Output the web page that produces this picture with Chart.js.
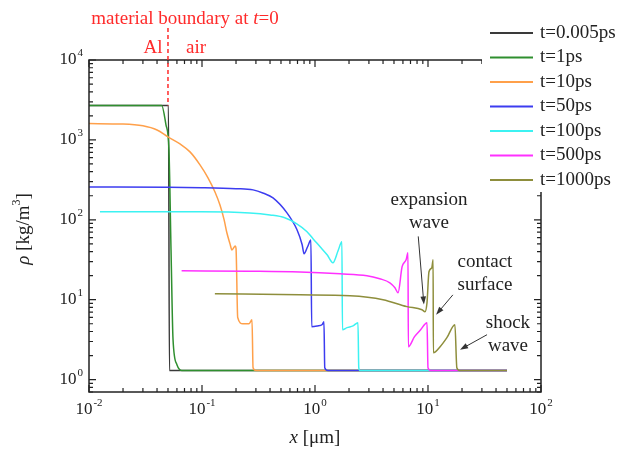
<!DOCTYPE html>
<html>
<head>
<meta charset="utf-8">
<script src="https://cdn.jsdelivr.net/npm/chart.js@4.4.1/dist/chart.umd.min.js"></script>
<style>
  body { margin: 0; background: #fff; }
  #wrap { width: 618px; height: 455px; }
</style>
</head>
<body>
<div id="wrap"><canvas id="rhoChart" width="618" height="455"></canvas></div>
<script>
// Density profiles rho(x) at successive times
const seriesLabels = ['t=0.005ps', 't=1ps', 't=10ps', 't=50ps', 't=100ps', 't=500ps', 't=1000ps'];

const x0005 = [0.01, 0.0505, 0.0515, 50];
const rho0005 = [2700, 2700, 1.3, 1.3];

const x1 = [0.01, 0.044, 0.048, 0.051, 0.0532, 0.0554, 0.060, 0.0665, 50];
const rho1 = [2700, 2700, 1540, 750, 42, 3.2, 1.54, 1.3, 1.3];

const x10 = [0.01, 0.02, 0.03, 0.04, 0.05, 0.0638, 0.0783, 0.096, 0.113, 0.130, 0.144, 0.157, 0.166, 0.177, 0.184, 0.197, 0.2, 0.207, 0.23, 0.26, 0.277, 0.283, 0.30, 50];
const rho10 = [1600, 1580, 1500, 1330, 1090, 891, 708, 487, 335, 224, 154, 100, 68.8, 50, 42, 47, 44, 6.0, 5.0, 5.0, 5.6, 1.41, 1.3, 1.3];

const x50 = [0.01, 0.05, 0.1, 0.2, 0.283, 0.35, 0.425, 0.565, 0.693, 0.77, 0.80, 0.86, 0.92, 0.935, 1.05, 1.16, 1.2, 1.22, 1.3, 50];
const rho50 = [257, 255, 252, 245, 237, 215, 188, 122, 75, 48.7, 37.6, 46, 56, 4.6, 4.7, 4.9, 5.3, 1.41, 1.3, 1.3];

const x100 = [0.0125, 0.096, 0.265, 0.40, 0.54, 0.69, 0.85, 0.96, 1.11, 1.28, 1.44, 1.6, 1.73, 1.75, 1.92, 2.17, 2.40, 2.44, 2.5, 50];
const rho100 = [126, 126, 122, 115, 106, 89, 71, 58, 46, 36.5, 29, 41, 53, 4.2, 4.47, 4.7, 5.16, 1.41, 1.3, 1.3];

const x500 = [0.066, 0.265, 0.736, 1.67, 2.88, 3.74, 4.6, 5.1, 5.43, 5.9, 6.4, 6.65, 6.7, 7.6, 8.6, 9.8, 10.0, 10.6, 50];
const rho500 = [23, 22.7, 22.2, 21.1, 20, 18.3, 16.3, 14.1, 12.2, 25.9, 31.6, 38.6, 2.58, 3.45, 4.2, 5.16, 1.41, 1.3, 1.3];

const x1000 = [0.13, 0.736, 2.04, 4.0, 6.5, 8.85, 9.4, 9.8, 10.2, 10.8, 11.1, 11.15, 12.8, 14.7, 17.3, 18.0, 19.1, 50];
const rho1000 = [11.9, 11.5, 11.2, 10, 8.2, 7.5, 7.08, 9.2, 22.4, 25.1, 31.6, 2.17, 2.58, 3.35, 4.87, 1.41, 1.3, 1.3];

const xSeries = [x0005, x1, x10, x50, x100, x500, x1000];
const rhoSeries = [rho0005, rho1, rho10, rho50, rho100, rho500, rho1000];

// axis decades
const xDecades = [-2, -1, 0, 1, 2];
const yDecades = [0, 1, 2, 3, 4];

// position of the Al/air interface at t=0 (um)
const boundaryX = 0.05;

const lineColors = ['#3a3a3a', '#2f8f2f', '#ffa04a', '#3c3cf0', '#3cf2f2', '#ff30ff', '#8e8e3c'];
const serif = "'Liberation Serif', 'Times New Roman', serif";

const datasets = seriesLabels.map((label, i) => ({
    label: label,
    data: xSeries[i].map((x, j) => ({ x: x, y: rhoSeries[i][j] })),
    borderColor: lineColors[i],
    borderWidth: 1.5,
    pointRadius: 0,
    cubicInterpolationMode: 'monotone',
    fill: false,
    order: seriesLabels.length - i   // later times drawn on top
}));

// draws "10" with a raised exponent; align: 'center' or 'right'
function drawPow(ctx, exp, x, y, align) {
    ctx.font = '17px ' + serif;
    const baseW = ctx.measureText('10').width;
    ctx.font = '11px ' + serif;
    const expW = ctx.measureText(exp).width;
    const total = baseW + expW + 1;
    let left = align === 'right' ? x - total : x - total / 2;
    ctx.textAlign = 'left';
    ctx.textBaseline = 'middle';
    ctx.font = '17px ' + serif;
    ctx.fillText('10', left, y);
    ctx.font = '11px ' + serif;
    ctx.fillText(exp, left + baseW + 1, y - 7);
}

function arrow(ctx, x0, y0, x1, y1) {
    const a = Math.atan2(y1 - y0, x1 - x0);
    ctx.beginPath();
    ctx.moveTo(x0, y0);
    ctx.lineTo(x1 - 5 * Math.cos(a), y1 - 5 * Math.sin(a));
    ctx.stroke();
    ctx.beginPath();
    ctx.moveTo(x1, y1);
    ctx.lineTo(x1 - 8 * Math.cos(a) + 2.8 * Math.sin(a), y1 - 8 * Math.sin(a) - 2.8 * Math.cos(a));
    ctx.lineTo(x1 - 8 * Math.cos(a) - 2.8 * Math.sin(a), y1 - 8 * Math.sin(a) + 2.8 * Math.cos(a));
    ctx.closePath();
    ctx.fill();
}

// text made of pieces, each with its own style and vertical shift
function drawRuns(ctx, runs, x, y, align) {
    let total = 0;
    for (const r of runs) { ctx.font = r.font; r.w = ctx.measureText(r.t).width; total += r.w; }
    let left = align === 'center' ? x - total / 2 : x;
    ctx.textAlign = 'left';
    for (const r of runs) {
        ctx.font = r.font;
        ctx.fillText(r.t, left, y + (r.dy || 0));
        left += r.w;
    }
}

const framePlugin = {
    id: 'frame',
    afterDatasetsDraw(chart) {
        const ctx = chart.ctx;
        const area = chart.chartArea;
        const xs = chart.scales.x;
        const ys = chart.scales.y;
        ctx.save();

        // box
        ctx.strokeStyle = '#222';
        ctx.lineWidth = 1.5;
        ctx.strokeRect(area.left, area.top, area.right - area.left, area.bottom - area.top);

        // inward ticks on all four sides
        ctx.lineWidth = 1.2;
        for (const d of xDecades) {
            for (let k = 1; k <= 9; k++) {
                const v = k * Math.pow(10, d);
                if (v < xs.min || v > xs.max) continue;
                const px = xs.getPixelForValue(v);
                const len = k === 1 ? 7 : 4;
                ctx.beginPath();
                ctx.moveTo(px, area.bottom); ctx.lineTo(px, area.bottom - len);
                ctx.moveTo(px, area.top); ctx.lineTo(px, area.top + len);
                ctx.stroke();
            }
        }
        for (const d of [-1].concat(yDecades)) {
            for (let k = 1; k <= 9; k++) {
                const v = k * Math.pow(10, d);
                if (v < ys.min || v > ys.max) continue;
                const py = ys.getPixelForValue(v);
                const len = k === 1 ? 7 : 4;
                ctx.beginPath();
                ctx.moveTo(area.left, py); ctx.lineTo(area.left + len, py);
                ctx.moveTo(area.right, py); ctx.lineTo(area.right - len, py);
                ctx.stroke();
            }
        }

        // tick labels
        ctx.fillStyle = '#222';
        for (const d of xDecades) {
            drawPow(ctx, String(d), xs.getPixelForValue(Math.pow(10, d)), area.bottom + 18, 'center');
        }
        for (const d of yDecades) {
            drawPow(ctx, String(d), area.left - 6, ys.getPixelForValue(Math.pow(10, d)), 'right');
        }

        // axis titles
        ctx.textBaseline = 'middle';
        drawRuns(ctx, [
            { t: 'x', font: 'italic 19px ' + serif },
            { t: ' [\u03bcm]', font: '19px ' + serif }
        ], (area.left + area.right) / 2, 438, 'center');

        ctx.save();
        ctx.translate(24, 229);
        ctx.rotate(-Math.PI / 2);
        drawRuns(ctx, [
            { t: '\u03c1', font: 'italic 19px ' + serif },
            { t: ' [kg/m', font: '19px ' + serif },
            { t: '3', font: '12px ' + serif, dy: -7 },
            { t: ']', font: '19px ' + serif }
        ], 0, 0, 'center');
        ctx.restore();

        // material boundary marker
        const bx = xs.getPixelForValue(boundaryX);
        ctx.strokeStyle = '#ff2a2a';
        ctx.lineWidth = 1.5;
        ctx.setLineDash([4, 3]);
        ctx.beginPath();
        ctx.moveTo(bx, 28);
        ctx.lineTo(bx, ys.getPixelForValue(2700));
        ctx.stroke();
        ctx.setLineDash([]);
        ctx.fillStyle = '#ff2a2a';
        drawRuns(ctx, [
            { t: 'material boundary at ', font: '19px ' + serif },
            { t: 't', font: 'italic 19px ' + serif },
            { t: '=0', font: '19px ' + serif }
        ], bx + 17, 19, 'center');
        drawRuns(ctx, [{ t: 'Al', font: '19px ' + serif }], bx - 15, 48, 'center');
        drawRuns(ctx, [{ t: 'air', font: '19px ' + serif }], bx + 28, 48, 'center');

        // wave annotations
        ctx.textAlign = 'center';
        const notes = [
            { text: ['expansion', 'wave'], at: [10.2, 178], from: [8.2, 62], to: [9.2, 8.7] },
            { text: ['contact', 'surface'], at: [31.9, 30], from: [16.6, 11.5], to: [11.8, 6.5] },
            { text: ['shock', 'wave'], at: [51, 5.16], from: [33.3, 3.65], to: [19.2, 2.37] }
        ];
        for (const n of notes) {
            const cx = xs.getPixelForValue(n.at[0]);
            const cy = ys.getPixelForValue(n.at[1]);
            ctx.fillStyle = '#222';
            ctx.font = '19px ' + serif;
            ctx.textAlign = 'center';
            ctx.fillText(n.text[0], cx, cy);
            ctx.fillText(n.text[1], cx, cy + 23);
            ctx.strokeStyle = '#333';
            ctx.fillStyle = '#333';
            ctx.lineWidth = 1;
            arrow(ctx,
                xs.getPixelForValue(n.from[0]), ys.getPixelForValue(n.from[1]),
                xs.getPixelForValue(n.to[0]), ys.getPixelForValue(n.to[1]));
        }

        // legend, sitting over the top-right corner of the frame
        ctx.fillStyle = '#fff';
        ctx.fillRect(482, 16, 136, 176);
        ctx.font = '19px ' + serif;
        ctx.textAlign = 'left';
        chart.data.datasets.forEach((ds, i) => {
            const ly = 33 + i * 24.5;
            ctx.strokeStyle = ds.borderColor;
            ctx.lineWidth = 1.8;
            ctx.beginPath();
            ctx.moveTo(490, ly);
            ctx.lineTo(533, ly);
            ctx.stroke();
            ctx.fillStyle = '#222';
            ctx.fillText(ds.label, 540, ly);
        });

        ctx.restore();
    }
};

const rhoChart = new Chart(document.getElementById('rhoChart'), {
    type: 'line',
    data: { datasets: datasets },
    options: {
        responsive: false,
        animation: false,
        layout: { padding: { top: 60, right: 77, left: 0, bottom: 0 } },
        plugins: {
            legend: { display: false },
            tooltip: { enabled: false }
        },
        scales: {
            x: {
                type: 'logarithmic',
                min: 0.01,
                max: 100,
                ticks: { display: false },
                grid: { display: false },
                border: { display: false },
                afterFit(scale) { scale.height = 63; }
            },
            y: {
                type: 'logarithmic',
                min: 0.708,
                max: 10000,
                ticks: { display: false },
                grid: { display: false },
                border: { display: false },
                afterFit(scale) { scale.width = 89; }
            }
        }
    },
    plugins: [framePlugin]
});
</script>
</body>
</html>
